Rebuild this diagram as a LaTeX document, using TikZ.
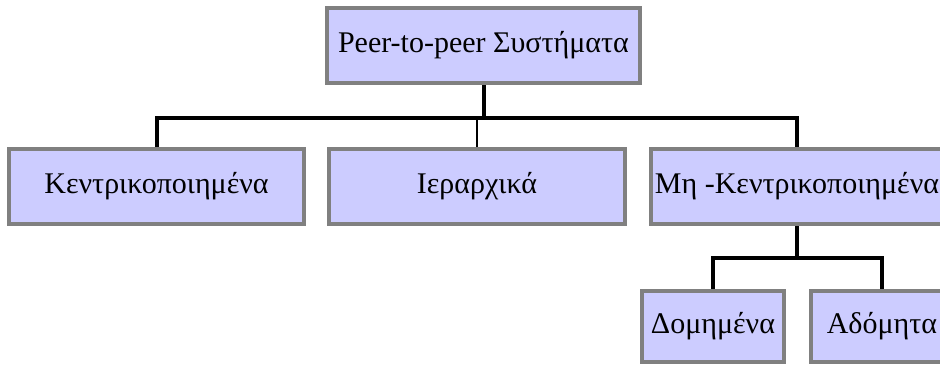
\documentclass[tikz,border=0pt]{standalone}
\usepackage{fontspec}
\setmainfont{Liberation Serif}
\usepackage{tikz}
\usetikzlibrary{positioning,calc}
\definecolor{BoxFill}{HTML}{CCCCFF}
\definecolor{BoxEdge}{HTML}{808080}

\tikzset{
  catbox/.style={draw=BoxEdge, line width=4pt, fill=BoxFill,
    minimum height=75pt, inner sep=0pt, align=center,
    font=\fontsize{30}{34}\selectfont},
  trunk/.style={line width=4pt},
  twig/.style={line width=1.5pt}
}

\begin{document}
\begin{tikzpicture}[x=1pt, y=-1pt]
  \useasboundingbox (0,0) rectangle (940,365);
  \clip (0,0) rectangle (940,365);
  % root and first level
  \node[catbox, minimum width=313pt] (sys) at (483.5,45.5) {Peer-to-peer Συστήματα};
  \node[catbox, minimum width=295pt] (cent) at (156.5,186.5) {Κεντρικοποιημένα};
  \node[catbox, minimum width=296pt] (ier) at (477,186.5) {Ιεραρχικά};
  \node[catbox, minimum width=293pt] (mikent) at (797,186.5) {Μη -Κεντρικοποιημένα};
  % second level
  \node[catbox, minimum width=142pt, minimum height=71pt] (dom) at (713,326.5) {Δομημένα};
  \node[catbox, minimum width=142pt, minimum height=71pt] (adom) at (882,326.5) {Αδόμητα};
  \coordinate (bus) at (0,118);
  \coordinate (subbus) at (0,258);
  % connectors
  \draw[trunk] (sys.south) -- (sys.south |- bus);
  \draw[trunk] (cent.north) |- (bus -| mikent.north) -- (mikent.north);
  \draw[twig] (ier.north) -- (ier.north |- bus);
  \draw[trunk] (mikent.south) -- (mikent.south |- subbus);
  \draw[trunk] (dom.north) |- (subbus -| adom.north) -- (adom.north);
\end{tikzpicture}
\end{document}
